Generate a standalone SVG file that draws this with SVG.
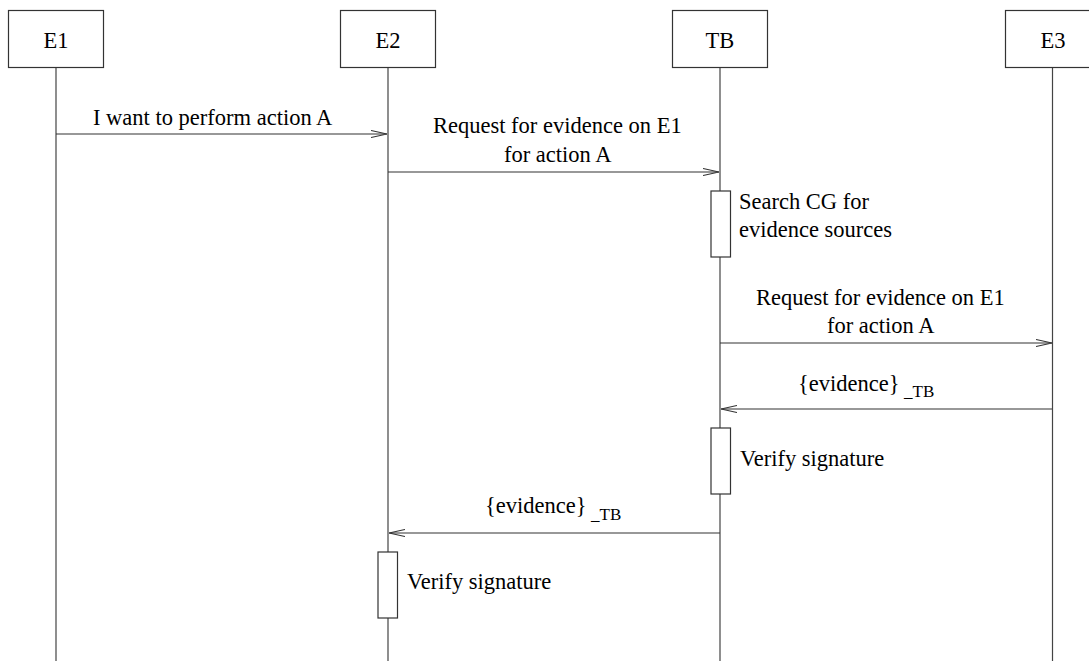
<svg xmlns="http://www.w3.org/2000/svg" width="1089" height="661" viewBox="0 0 1089 661">
<defs>
<style>
.box{fill:#fff;stroke:#333;stroke-width:1.2}
.life{stroke:#444;stroke-width:1.2;fill:none}
.msg{stroke:#333;stroke-width:1.2;fill:none}
.act{fill:#fff;stroke:#333;stroke-width:1.2}
text{font-family:'Liberation Serif','Times New Roman',Times,serif;font-size:22.5px;fill:#000}
.sub{font-size:17px}
.c{text-anchor:middle}
</style>
<marker id="arr" viewBox="0 0 16 8" refX="16" refY="4" markerWidth="16" markerHeight="8" markerUnits="userSpaceOnUse" orient="auto">
<path d="M0,0.5 L16,4 L0,7.5" fill="none" stroke="#333" stroke-width="1.1"/>
</marker>
</defs>
<rect width="1089" height="661" fill="#fff"/>
<g id="lifelines">
<line class="life" x1="56" y1="67" x2="56" y2="661"/>
<line class="life" x1="388" y1="67" x2="388" y2="661"/>
<line class="life" x1="720" y1="67" x2="720" y2="661"/>
<line class="life" x1="1052.5" y1="67" x2="1052.5" y2="661"/>
</g>
<g id="E1"><rect class="box" x="8.5" y="10.5" width="95" height="57"/><text class="c" x="56" y="48">E1</text></g>
<g id="E2"><rect class="box" x="340.5" y="10.5" width="95" height="57"/><text class="c" x="388" y="48">E2</text></g>
<g id="TB"><rect class="box" x="672.5" y="10.5" width="95" height="57"/><text class="c" x="720" y="48">TB</text></g>
<g id="E3"><rect class="box" x="1005.5" y="10.5" width="95" height="57"/><text class="c" x="1053" y="48">E3</text></g>
<g id="connectors">
<line class="msg" x1="56" y1="134" x2="387" y2="134" marker-end="url(#arr)"/>
<line class="msg" x1="388" y1="172" x2="719" y2="172" marker-end="url(#arr)"/>
<line class="msg" x1="720" y1="343" x2="1052" y2="343" marker-end="url(#arr)"/>
<line class="msg" x1="1052" y1="409" x2="721" y2="409" marker-end="url(#arr)"/>
<line class="msg" x1="720" y1="533" x2="389" y2="533" marker-end="url(#arr)"/>
</g>
<g id="labels">
<text x="93" y="125">I want to perform action A</text>
<text x="433" y="133">Request for evidence on E1</text>
<text x="504" y="162">for action A</text>
<text x="756" y="305">Request for evidence on E1</text>
<text x="827" y="333">for action A</text>
<text x="798" y="391">{evidence}</text><text class="sub" x="904" y="397">_TB</text>
<text x="485" y="513">{evidence}</text><text class="sub" x="591" y="520">_TB</text>
</g>
<g id="act-search"><rect class="act" x="711" y="191" width="19.5" height="66"/><text x="739" y="209">Search CG for</text><text x="739" y="237">evidence sources</text></g>
<g id="act-verify-tb"><rect class="act" x="711" y="428" width="19.5" height="66"/><text x="740" y="466">Verify signature</text></g>
<g id="act-verify-e2"><rect class="act" x="378" y="552" width="19.5" height="66"/><text x="407" y="589">Verify signature</text></g>
</svg>
